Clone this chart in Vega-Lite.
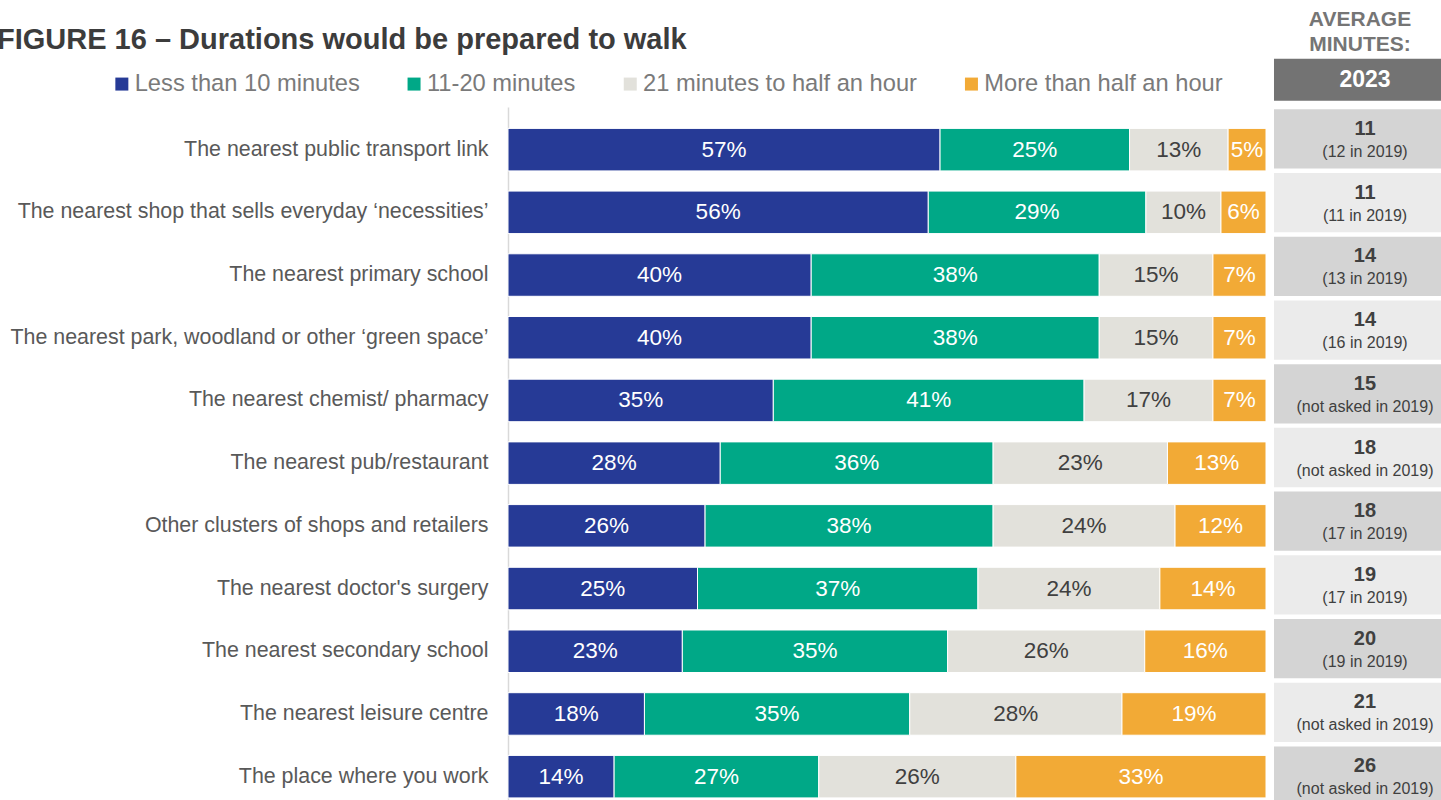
{
  "$schema": "https://vega.github.io/schema/vega-lite/v6.json",
  "width": 933,
  "height": 701,
  "autosize": {"type": "none"},
  "padding": {"left": 508, "top": 107, "right": 0, "bottom": 0},
  "background": "white",
  "config": {"view": {"stroke": null}, "font": "Liberation Sans"},
  "title": {
    "text": "FIGURE 16 – Durations would be prepared to walk",
    "anchor": "start",
    "frame": "group",
    "font": "Liberation Sans",
    "fontSize": 29,
    "fontWeight": "bold",
    "color": "#3c3c3c",
    "dx": -511,
    "dy": 50
  },
  "datasets": {
    "bars": [
      {"item": "The nearest public transport link", "cat": "Less than 10 minutes", "pct": 0.57},
      {"item": "The nearest public transport link", "cat": "11-20 minutes", "pct": 0.25},
      {"item": "The nearest public transport link", "cat": "21 minutes to half an hour", "pct": 0.13},
      {"item": "The nearest public transport link", "cat": "More than half an hour", "pct": 0.05},
      {"item": "The nearest shop that sells everyday ‘necessities’", "cat": "Less than 10 minutes", "pct": 0.56},
      {"item": "The nearest shop that sells everyday ‘necessities’", "cat": "11-20 minutes", "pct": 0.29},
      {"item": "The nearest shop that sells everyday ‘necessities’", "cat": "21 minutes to half an hour", "pct": 0.10},
      {"item": "The nearest shop that sells everyday ‘necessities’", "cat": "More than half an hour", "pct": 0.06},
      {"item": "The nearest primary school", "cat": "Less than 10 minutes", "pct": 0.40},
      {"item": "The nearest primary school", "cat": "11-20 minutes", "pct": 0.38},
      {"item": "The nearest primary school", "cat": "21 minutes to half an hour", "pct": 0.15},
      {"item": "The nearest primary school", "cat": "More than half an hour", "pct": 0.07},
      {"item": "The nearest park, woodland or other ‘green space’", "cat": "Less than 10 minutes", "pct": 0.40},
      {"item": "The nearest park, woodland or other ‘green space’", "cat": "11-20 minutes", "pct": 0.38},
      {"item": "The nearest park, woodland or other ‘green space’", "cat": "21 minutes to half an hour", "pct": 0.15},
      {"item": "The nearest park, woodland or other ‘green space’", "cat": "More than half an hour", "pct": 0.07},
      {"item": "The nearest chemist/ pharmacy", "cat": "Less than 10 minutes", "pct": 0.35},
      {"item": "The nearest chemist/ pharmacy", "cat": "11-20 minutes", "pct": 0.41},
      {"item": "The nearest chemist/ pharmacy", "cat": "21 minutes to half an hour", "pct": 0.17},
      {"item": "The nearest chemist/ pharmacy", "cat": "More than half an hour", "pct": 0.07},
      {"item": "The nearest pub/restaurant", "cat": "Less than 10 minutes", "pct": 0.28},
      {"item": "The nearest pub/restaurant", "cat": "11-20 minutes", "pct": 0.36},
      {"item": "The nearest pub/restaurant", "cat": "21 minutes to half an hour", "pct": 0.23},
      {"item": "The nearest pub/restaurant", "cat": "More than half an hour", "pct": 0.13},
      {"item": "Other clusters of shops and retailers", "cat": "Less than 10 minutes", "pct": 0.26},
      {"item": "Other clusters of shops and retailers", "cat": "11-20 minutes", "pct": 0.38},
      {"item": "Other clusters of shops and retailers", "cat": "21 minutes to half an hour", "pct": 0.24},
      {"item": "Other clusters of shops and retailers", "cat": "More than half an hour", "pct": 0.12},
      {"item": "The nearest doctor's surgery", "cat": "Less than 10 minutes", "pct": 0.25},
      {"item": "The nearest doctor's surgery", "cat": "11-20 minutes", "pct": 0.37},
      {"item": "The nearest doctor's surgery", "cat": "21 minutes to half an hour", "pct": 0.24},
      {"item": "The nearest doctor's surgery", "cat": "More than half an hour", "pct": 0.14},
      {"item": "The nearest secondary school", "cat": "Less than 10 minutes", "pct": 0.23},
      {"item": "The nearest secondary school", "cat": "11-20 minutes", "pct": 0.35},
      {"item": "The nearest secondary school", "cat": "21 minutes to half an hour", "pct": 0.26},
      {"item": "The nearest secondary school", "cat": "More than half an hour", "pct": 0.16},
      {"item": "The nearest leisure centre", "cat": "Less than 10 minutes", "pct": 0.18},
      {"item": "The nearest leisure centre", "cat": "11-20 minutes", "pct": 0.35},
      {"item": "The nearest leisure centre", "cat": "21 minutes to half an hour", "pct": 0.28},
      {"item": "The nearest leisure centre", "cat": "More than half an hour", "pct": 0.19},
      {"item": "The place where you work", "cat": "Less than 10 minutes", "pct": 0.14},
      {"item": "The place where you work", "cat": "11-20 minutes", "pct": 0.27},
      {"item": "The place where you work", "cat": "21 minutes to half an hour", "pct": 0.26},
      {"item": "The place where you work", "cat": "More than half an hour", "pct": 0.33}
    ],
    "avg": [
      {"item": "The nearest public transport link", "avg": 11, "note": "(12 in 2019)"},
      {"item": "The nearest shop that sells everyday ‘necessities’", "avg": 11, "note": "(11 in 2019)"},
      {"item": "The nearest primary school", "avg": 14, "note": "(13 in 2019)"},
      {"item": "The nearest park, woodland or other ‘green space’", "avg": 14, "note": "(16 in 2019)"},
      {"item": "The nearest chemist/ pharmacy", "avg": 15, "note": "(not asked in 2019)"},
      {"item": "The nearest pub/restaurant", "avg": 18, "note": "(not asked in 2019)"},
      {"item": "Other clusters of shops and retailers", "avg": 18, "note": "(17 in 2019)"},
      {"item": "The nearest doctor's surgery", "avg": 19, "note": "(17 in 2019)"},
      {"item": "The nearest secondary school", "avg": 20, "note": "(19 in 2019)"},
      {"item": "The nearest leisure centre", "avg": 21, "note": "(not asked in 2019)"},
      {"item": "The place where you work", "avg": 26, "note": "(not asked in 2019)"}
    ]
  },
  "layer": [
    {
      "data": {"name": "bars"},
      "transform": [
        {"stack": "pct", "groupby": ["item"], "offset": "normalize", "as": ["x0", "x1"]},
        {"calculate": "(datum.x0 + datum.x1) / 2", "as": "xm"}
      ],
      "encoding": {
        "y": {
          "field": "item",
          "type": "nominal",
          "sort": null,
          "scale": {"paddingInner": 0, "paddingOuter": 0.09, "align": 1},
          "axis": {
            "title": null,
            "ticks": false,
            "grid": false,
            "domainColor": "#d9d9d9",
            "domainWidth": 1.5,
            "labelFont": "Liberation Sans",
            "labelFontSize": 21.4,
            "labelColor": "#595959",
            "labelPadding": 20,
            "labelLimit": 600
          }
        }
      },
      "layer": [
        {
          "mark": {"type": "bar", "height": {"band": 0.678}, "stroke": "white", "strokeWidth": 1},
          "encoding": {
            "x": {
              "field": "x0",
              "type": "quantitative",
              "scale": {"domain": [0, 1.23087], "nice": false, "zero": false},
              "axis": null
            },
            "x2": {"field": "x1"},
            "color": {
              "field": "cat",
              "type": "nominal",
              "scale": {
                "domain": ["Less than 10 minutes", "11-20 minutes", "21 minutes to half an hour", "More than half an hour"],
                "range": ["#263a96", "#00a887", "#e2e1db", "#f2aa36"]
              },
              "legend": {
                "orient": "none",
                "legendX": -398,
                "legendY": -35,
                "direction": "horizontal",
                "title": null,
                "symbolType": "square",
                "symbolSize": 169,
                "symbolStrokeWidth": 0,
                "labelFont": "Liberation Sans",
                "labelFontSize": 23.7,
                "labelColor": "#7a7a7a",
                "labelOffset": 1,
                "columnPadding": 42.2,
                "labelLimit": 400
              }
            }
          }
        },
        {
          "mark": {"type": "text", "font": "Liberation Sans", "fontSize": 22.5},
          "encoding": {
            "x": {"field": "xm", "type": "quantitative"},
            "text": {"field": "pct", "format": ".0%"},
            "color": {
              "condition": {"test": "datum.cat === '21 minutes to half an hour'", "value": "#404040"},
              "value": "#ffffff"
            }
          }
        }
      ]
    },
    {
      "data": {"name": "avg"},
      "encoding": {
        "y": {
          "field": "item",
          "type": "nominal",
          "sort": null,
          "scale": {"paddingInner": 0, "paddingOuter": 0},
          "axis": null
        }
      },
      "layer": [
        {
          "mark": {"type": "bar", "height": {"band": 0.93}},
          "encoding": {
            "x": {
              "datum": 1.01055,
              "type": "quantitative",
              "scale": {"domain": [0, 1.23087], "nice": false, "zero": false},
              "axis": null
            },
            "x2": {"datum": 1.27},
            "fill": {
              "field": "item",
              "type": "nominal",
              "sort": null,
              "scale": {"range": ["#d4d4d4", "#ebebeb", "#d4d4d4", "#ebebeb", "#d4d4d4", "#ebebeb", "#d4d4d4", "#ebebeb", "#d4d4d4", "#ebebeb", "#d4d4d4"]},
              "legend": null
            }
          }
        },
        {
          "mark": {"type": "text", "font": "Liberation Sans", "fontSize": 20, "fontWeight": "bold", "color": "#404040", "dy": -10},
          "encoding": {
            "x": {"datum": 1.1306, "type": "quantitative"},
            "text": {"field": "avg"}
          }
        },
        {
          "mark": {"type": "text", "font": "Liberation Sans", "fontSize": 16, "color": "#404040", "dy": 13},
          "encoding": {
            "x": {"datum": 1.1306, "type": "quantitative"},
            "text": {"field": "note"}
          }
        },
        {
          "data": {"values": [{"label": "2023"}]},
          "mark": {"type": "bar", "height": 42, "yOffset": -59, "color": "#737373"},
          "encoding": {
            "y": {"datum": "The nearest public transport link", "type": "nominal"},
            "x": {"datum": 1.01055, "type": "quantitative"},
            "x2": {"datum": 1.27}
          }
        },
        {
          "data": {"values": [{"label": "2023"}]},
          "mark": {"type": "text", "font": "Liberation Sans", "fontSize": 23, "fontWeight": "bold", "color": "#ffffff", "dy": -59},
          "encoding": {
            "y": {"datum": "The nearest public transport link", "type": "nominal"},
            "x": {"datum": 1.1306, "type": "quantitative"},
            "text": {"field": "label"}
          }
        },
        {
          "data": {"values": [{"label": ["AVERAGE", "MINUTES:"]}]},
          "mark": {"type": "text", "font": "Liberation Sans", "fontSize": 21, "fontWeight": "bold", "color": "#757575", "lineHeight": 25, "baseline": "middle", "dy": -119},
          "encoding": {
            "y": {"datum": "The nearest public transport link", "type": "nominal"},
            "x": {"datum": 1.124, "type": "quantitative"},
            "text": {"field": "label"}
          }
        }
      ]
    }
  ],
  "resolve": {"scale": {"y": "independent"}, "axis": {"y": "independent"}}
}
